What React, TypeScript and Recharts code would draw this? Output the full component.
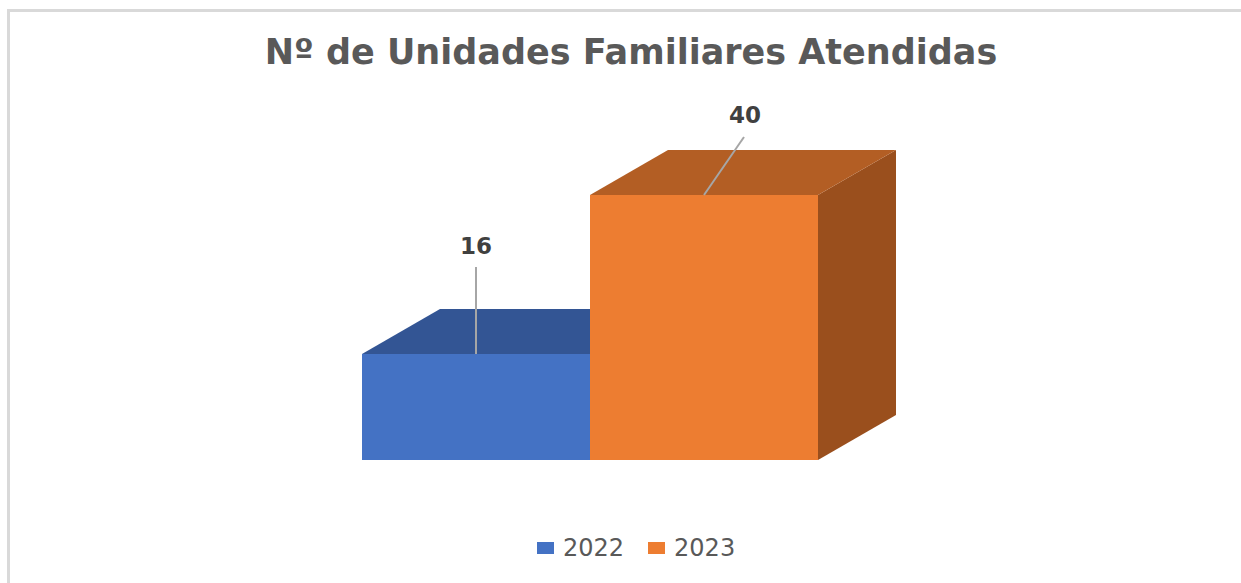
import { BarChart, Bar, XAxis, YAxis, Legend, LabelList } from 'recharts';

const categories = ['Unidades Familiares'];
const seriesNames = ['2022', '2023'];
const values2022 = [16];
const values2023 = [40];

const title = 'Nº de Unidades Familiares Atendidas';

const data = categories.map((c, i) => ({
  name: c,
  [seriesNames[0]]: values2022[i],
  [seriesNames[1]]: values2023[i],
}));

// Excel-style 3D box colours: front / top / side
const FRONT: Record<string, string> = { '2022': '#4472c4', '2023': '#ed7d31' };
const TOP: Record<string, string> = { '2022': '#335594', '2023': '#b35e24' };
const SIDE: Record<string, string> = { '2022': '#2c4b82', '2023': '#9a4f1d' };

// label placement relative to the front-top centre of the box
const LABEL_OFFSET: Record<string, { dx: number; dy: number; lineDx: number; lineDy: number }> = {
  '2022': { dx: 0, dy: -100, lineDx: 0, lineDy: -87 },
  '2023': { dx: 41, dy: -72, lineDx: 40, lineDy: -58 },
};

const DEPTH_X = 78;
const DEPTH_Y = 45;
const FONT = '"DejaVu Sans", sans-serif';

function Box3D(props: any) {
  const { x, y, width, height, series } = props;
  if (width == null || height == null) return null;
  const x2 = x + width;
  const y2 = y + height;
  return (
    <g>
      <polygon
        points={`${x2},${y} ${x2 + DEPTH_X},${y - DEPTH_Y} ${x2 + DEPTH_X},${y2 - DEPTH_Y} ${x2},${y2}`}
        fill={SIDE[series]}
      />
      <polygon
        points={`${x},${y} ${x2},${y} ${x2 + DEPTH_X},${y - DEPTH_Y} ${x + DEPTH_X},${y - DEPTH_Y}`}
        fill={TOP[series]}
      />
      <rect x={x} y={y} width={width} height={height} fill={FRONT[series]} />
    </g>
  );
}

function makeLabel(series: string) {
  return (props: any) => {
    const { x, y, width, value } = props;
    const o = LABEL_OFFSET[series];
    const cx = x + width / 2;
    return (
      <g>
        <line x1={cx} y1={y} x2={cx + o.lineDx} y2={y + o.lineDy} stroke="#a6a6a6" strokeWidth={2} />
        <text
          x={cx + o.dx}
          y={y + o.dy}
          textAnchor="middle"
          fontFamily={FONT}
          fontWeight="bold"
          fontSize={23}
          fill="#404040"
        >
          {value}
        </text>
      </g>
    );
  };
}

function LegendContent() {
  return (
    <div style={{ display: 'flex', alignItems: 'center', fontFamily: FONT }}>
      {seriesNames.map((s, i) => (
        <div key={s} style={{ display: 'flex', alignItems: 'center', marginLeft: i === 0 ? 0 : 24 }}>
          <span style={{ display: 'inline-block', width: 17, height: 12, background: FRONT[s], marginRight: 9 }} />
          <span style={{ fontSize: 24, lineHeight: '24px', color: '#595959' }}>{s}</span>
        </div>
      ))}
    </div>
  );
}

export default function App() {
  return (
    <div style={{ position: 'absolute', left: 0, top: 0, width: 1241, height: 583, background: '#fff' }}>
      <div
        style={{
          position: 'absolute',
          left: 7,
          top: 9,
          width: 1234,
          height: 574,
          borderTop: '3px solid #d9d9d9',
          borderLeft: '3px solid #d9d9d9',
          boxSizing: 'border-box',
        }}
      />
      <div
        style={{
          position: 'absolute',
          left: 21,
          top: 35,
          width: 1220,
          textAlign: 'center',
          fontFamily: FONT,
          fontWeight: 'bold',
          fontSize: 35,
          lineHeight: '35px',
          color: '#595959',
        }}
      >
        {title}
      </div>
      <div style={{ position: 'absolute', left: 0, top: 0 }}>
        <BarChart
          width={1241}
          height={583}
          data={data}
          margin={{ top: 195, right: 424, bottom: 123, left: 362 }}
          barCategoryGap={0}
          barGap={0}
        >
          <XAxis dataKey="name" hide />
          <YAxis domain={[0, 'dataMax']} hide />
          {seriesNames.map((s) => (
            <Bar
              key={s}
              dataKey={s}
              name={s}
              fill={FRONT[s]}
              isAnimationActive={false}
              shape={(p: any) => <Box3D {...p} series={s} />}
            >
              <LabelList dataKey={s} content={makeLabel(s)} />
            </Bar>
          ))}
          <Legend
            verticalAlign="middle"
            align="center"
            width={300}
            wrapperStyle={{ top: 536, left: 537 }}
            content={() => <LegendContent />}
          />
        </BarChart>
      </div>
    </div>
  );
}
